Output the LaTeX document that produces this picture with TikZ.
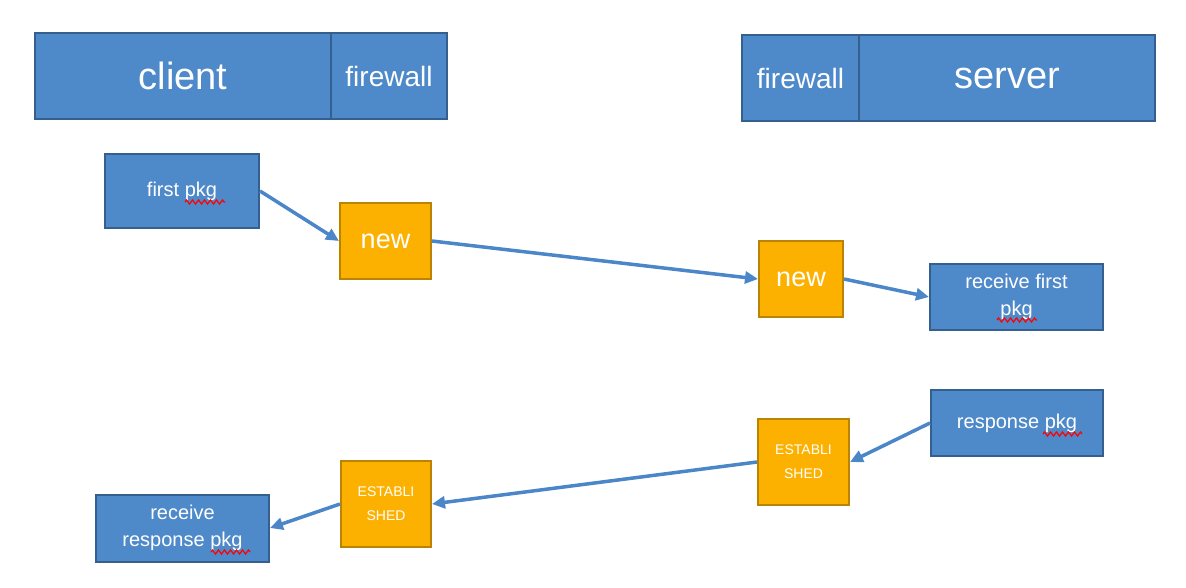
\documentclass[tikz,border=0pt]{standalone}
\usepackage{fontspec}
\setmainfont{Liberation Sans}
\usetikzlibrary{arrows.meta,decorations.pathmorphing}
\definecolor{bfill}{HTML}{4E89C9}
\definecolor{bdraw}{HTML}{355F8F}
\definecolor{ofill}{HTML}{FCB100}
\definecolor{odraw}{HTML}{BA8400}
\definecolor{arr}{HTML}{4A86C8}
\tikzset{
  bluebox/.style={draw=bdraw, fill=bfill, line width=2pt, text=white, align=center, inner sep=0pt},
  orangebox/.style={draw=odraw, fill=ofill, line width=2pt, text=white, align=center, inner sep=0pt},
  conn/.style={draw=arr, line width=3.5pt, -{Triangle[length=13pt,width=12pt]}},
  squig/.style={draw=red, line width=1.2pt, decorate, decoration={zigzag, amplitude=2pt, segment length=6pt}}
}
\begin{document}
\begin{tikzpicture}[x=1pt,y=-1pt]
\useasboundingbox (0,0) rectangle (1186,588);
% header boxes
\node[bluebox, minimum width=296pt, minimum height=86pt, font=\fontsize{38}{40}\selectfont] (client) at (183,76) {client};
\node[bluebox, minimum width=116pt, minimum height=86pt, font=\fontsize{28}{30}\selectfont] (fwl) at (389,76) {firewall};
\node[bluebox, minimum width=117pt, minimum height=86pt, font=\fontsize{28}{30}\selectfont] (fwr) at (800.5,78) {firewall};
\node[bluebox, minimum width=296pt, minimum height=86pt, font=\fontsize{38}{40}\selectfont] (server) at (1007,78) {server};
% packets
\node[bluebox, minimum width=154pt, minimum height=74pt, font=\fontsize{20}{27}\selectfont] (first) at (182,191) {first pkg};
\node[orangebox, minimum width=91pt, minimum height=76pt, font=\fontsize{27}{30}\selectfont] (new1) at (385.5,241) {new};
\node[orangebox, minimum width=84pt, minimum height=76pt, font=\fontsize{27}{30}\selectfont] (new2) at (801,279) {new};
\node[bluebox, minimum width=173pt, minimum height=66pt, font=\fontsize{20}{27}\selectfont] (recvfirst) at (1016.5,297) {receive first\\pkg};
\node[bluebox, minimum width=172pt, minimum height=66pt, font=\fontsize{20}{27}\selectfont] (resp) at (1017,423) {response pkg};
\node[orangebox, minimum width=91pt, minimum height=86pt, font=\fontsize{14}{24}\selectfont] (estr) at (803.5,462) {ESTABLI\\SHED};
\node[orangebox, minimum width=90pt, minimum height=86pt, font=\fontsize{14}{24}\selectfont] (estl) at (386,504) {ESTABLI\\SHED};
\node[bluebox, minimum width=173pt, minimum height=67pt, font=\fontsize{20}{27}\selectfont] (recvresp) at (182.5,528) {receive\\response pkg};
% connectors
\draw[conn] (first.east) -- (new1.west);
\draw[conn] (new1.east) -- (new2.west);
\draw[conn] (new2.east) -- (recvfirst.west);
\draw[conn] (resp.west) -- (estr.east);
\draw[conn] (estr.west) -- (estl.east);
\draw[conn] (estl.west) -- (recvresp.east);
% spell-check underlines
\draw[squig] (185,202) -- (225,202);
\draw[squig] (997,320) -- (1037,320);
\draw[squig] (1043,434) -- (1082,434);
\draw[squig] (211,552) -- (250,552);
\end{tikzpicture}
\end{document}
